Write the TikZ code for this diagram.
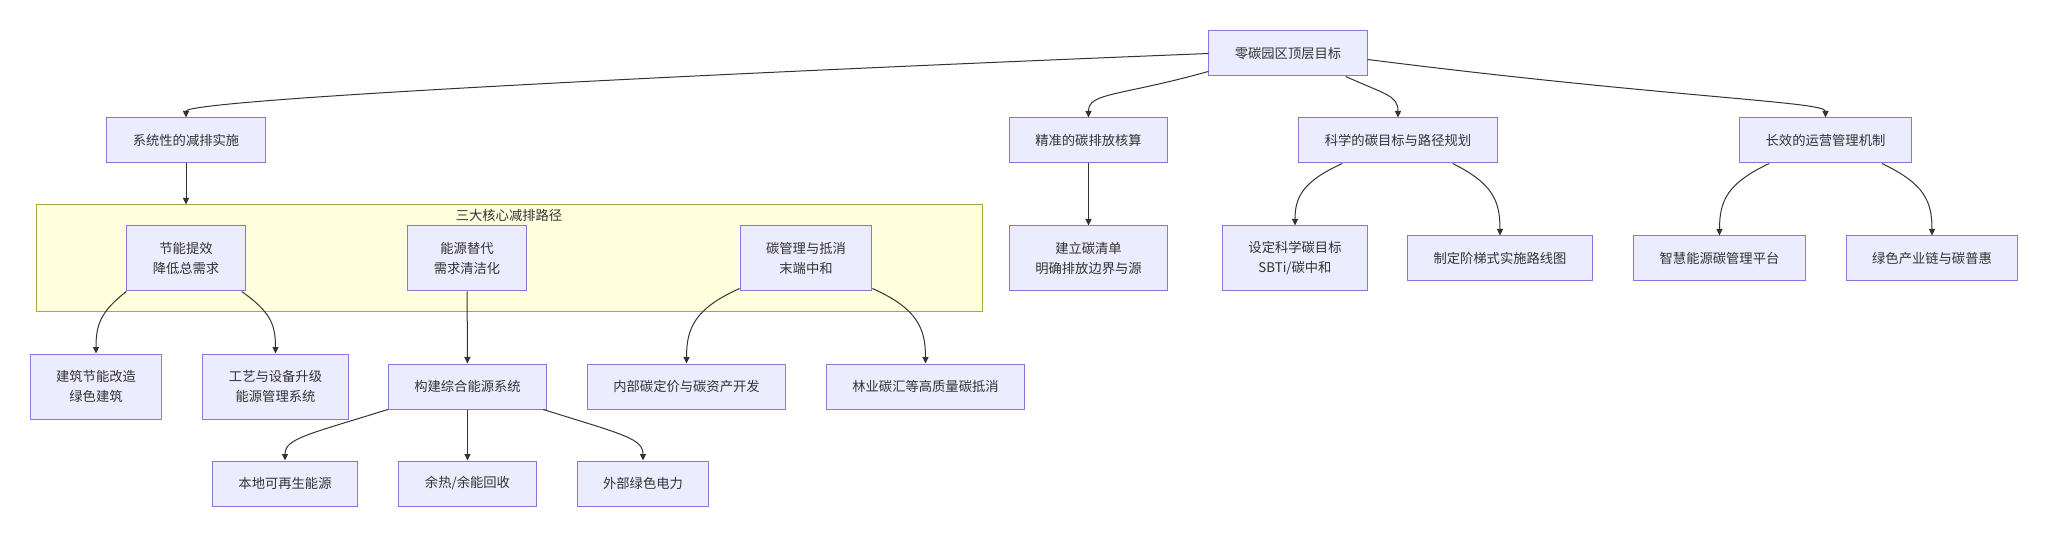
\documentclass[tikz,border=0pt]{standalone}
\usepackage{fontspec}
\setmainfont{Noto Sans CJK SC}
\usetikzlibrary{arrows.meta}

\definecolor{nodefill}{HTML}{ECECFF}
\definecolor{nodeline}{HTML}{9370DB}
\definecolor{clusterfill}{HTML}{FFFFDE}
\definecolor{clusterline}{HTML}{AAAA33}
\definecolor{ink}{HTML}{333333}

\begin{document}
\begin{tikzpicture}[x=1pt,y=-1pt,
  every node/.style={font=\fontsize{13.3}{20}\selectfont,text=ink},
  box/.style={rectangle,draw=nodeline,fill=nodefill,line width=1pt,align=center,
    inner xsep=26pt,inner ysep=3pt,minimum height=45pt},
  tall/.style={box,minimum height=65pt},
  cluster/.style={rectangle,draw=clusterline,fill=clusterfill,line width=1pt,
    minimum width=946pt,minimum height=107pt},
  link/.style={draw=ink,line width=1pt,-{Triangle[length=6.5pt,width=6pt]}}]
  \useasboundingbox (0,0) rectangle (2048,537);

  \node[cluster] (paths) at (509,258.5) {};
  \node (pathlabel) at (509,215) {三大核心减排路径};

  \node[box] (goal) at (1288,53.5) {零碳园区顶层目标};
  \node[box] (sys) at (186,140.5) {系统性的减排实施};
  \node[box] (acct) at (1088.5,140.5) {精准的碳排放核算};
  \node[box] (plan) at (1398,140.5) {科学的碳目标与路径规划};
  \node[box] (ops) at (1825.5,140.5) {长效的运营管理机制};

  \node[tall] (save) at (186,258.5) {节能提效\\降低总需求};
  \node[tall] (subst) at (467,258.5) {能源替代\\需求清洁化};
  \node[tall] (offs) at (806,258.5) {碳管理与抵消\\末端中和};
  \node[tall] (inv) at (1088.5,258.5) {建立碳清单\\明确排放边界与源};
  \node[tall] (sbti) at (1295,258.5) {设定科学碳目标\\SBTi/碳中和};
  \node[box] (road) at (1500,258.5) {制定阶梯式实施路线图};
  \node[box] (plat) at (1719.5,258.5) {智慧能源碳管理平台};
  \node[box] (chain) at (1932,258.5) {绿色产业链与碳普惠};

  \node[tall] (bldg) at (96,386.5) {建筑节能改造\\绿色建筑};
  \node[tall] (proc) at (275.5,386.5) {工艺与设备升级\\能源管理系统};
  \node[box] (ies) at (467.5,386.5) {构建综合能源系统};
  \node[box] (price) at (686.5,386.5) {内部碳定价与碳资产开发};
  \node[box] (forest) at (925.5,386.5) {林业碳汇等高质量碳抵消};

  \node[box] (local) at (285,483.5) {本地可再生能源};
  \node[box] (heat) at (467.5,483.5) {余热/余能回收};
  \node[box] (grid) at (643,483.5) {外部绿色电力};

  \draw[link] (goal.west) .. controls +(-500,20) and +(0,-18) .. (sys.north);
  \draw[link] ([yshift=5pt]goal.south west) .. controls +(-90,25) and +(0,-25) .. (acct.north);
  \draw[link] ([xshift=-22pt]goal.south east) .. controls +(40,18) and +(0,-22) .. (plan.north);
  \draw[link] ([yshift=-6pt]goal.east) .. controls +(300,38) and +(0,-16) .. (ops.north);

  \draw[link] (sys.south) -- (sys.south |- paths.north);
  \draw[link] (acct) -- (inv);
  \draw[link] (subst) -- (ies);
  \draw[link] (ies) -- (heat);

  \draw[link] ([xshift=44pt]plan.south west) .. controls +(-40,18) and +(0,-28) .. (sbti.north);
  \draw[link] ([xshift=-45pt]plan.south east) .. controls +(40,20) and +(0,-35) .. (road.north);
  \draw[link] ([xshift=30pt]ops.south west) .. controls +(-42,20) and +(0,-35) .. (plat.north);
  \draw[link] ([xshift=-30pt]ops.south east) .. controls +(42,20) and +(0,-35) .. (chain.north);

  \draw[link] (save.south west) .. controls +(-25,20) and +(0,-30) .. (bldg.north);
  \draw[link] ([xshift=-4pt]save.south east) .. controls +(28,20) and +(0,-30) .. (proc.north);
  \draw[link] ([yshift=3pt]offs.south west) .. controls +(-45,20) and +(0,-35) .. (price.north);
  \draw[link] ([yshift=3pt]offs.south east) .. controls +(45,20) and +(0,-35) .. (forest.north);
  \draw[link] (ies.south west) .. controls +(-80,25) and +(0,-22) .. (local.north);
  \draw[link] ([xshift=-4pt]ies.south east) .. controls +(80,25) and +(0,-22) .. (grid.north);
\end{tikzpicture}
\end{document}
